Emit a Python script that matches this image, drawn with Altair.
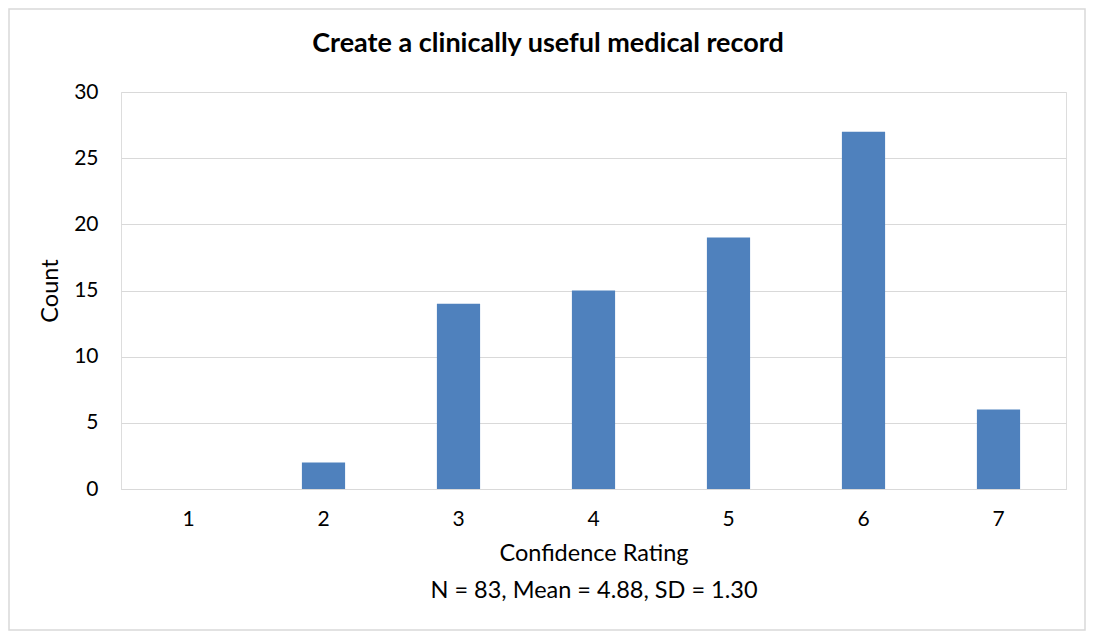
import altair as alt
import pandas as pd

ratings = ["1", "2", "3", "4", "5", "6", "7"]
counts = [0, 2, 14, 15, 19, 27, 6]
y_ticks = [0, 5, 10, 15, 20, 25, 30]

title_text = "Create a clinically useful medical record"
x_title = ["Confidence Rating", "N = 83, Mean = 4.88, SD = 1.30"]
y_title = "Count"

df = pd.DataFrame({"Rating": ratings, "Count": counts})

FONT = "Lato"
W, H = 945, 397

bars = alt.Chart(df).mark_bar(color="#4F81BD").encode(
    x=alt.X(
        "Rating:N",
        sort=ratings,
        scale=alt.Scale(paddingInner=0.68, paddingOuter=0.34),
        axis=alt.Axis(
            title=x_title,
            labelAngle=0,
            labelFont=FONT,
            labelFontSize=21,
            labelColor="#000000",
            labelPadding=19,
            ticks=False,
            domainColor="#D9D9D9",
            domainWidth=1,
            titleFont=FONT,
            titleFontSize=23.5,
            titleFontWeight="normal",
            titleColor="#000000",
            titleLineHeight=37,
            titlePadding=12,
            grid=False,
        ),
    ),
    y=alt.Y(
        "Count:Q",
        scale=alt.Scale(domain=[0, 30], nice=False),
        axis=alt.Axis(
            values=y_ticks,
            title=y_title,
            labelFont=FONT,
            labelFontSize=21,
            labelColor="#000000",
            labelPadding=23,
            ticks=False,
            domain=False,
            gridColor="#D9D9D9",
            gridWidth=1,
            titleFont=FONT,
            titleFontSize=23.5,
            titleFontWeight="normal",
            titleColor="#000000",
            titleX=-71,
            titleY=H / 2,
            titleAngle=-90,
            titleAlign="center",
            titleBaseline="middle",
        ),
    ),
)

frame_df = pd.DataFrame({"label": [title_text]})
frame = alt.Chart(frame_df).mark_rect(
    fill=None, stroke="#D9D9D9", strokeWidth=1.5
).encode(
    x=alt.value(-112),
    x2=alt.value(W + 19),
    y=alt.value(-83),
    y2=alt.value(H + 141),
)

title = alt.Chart(frame_df).mark_text(
    font=FONT,
    fontSize=27,
    fontWeight="bold",
    color="#000000",
    align="center",
    baseline="middle",
).encode(
    text="label:N",
    x=alt.value(427),
    y=alt.value(-48),
)

chart = (
    alt.layer(frame, bars, title)
    .properties(
        width=W,
        height=H,
        padding={"left": 113, "top": 84, "right": 20, "bottom": 142},
        autosize=alt.AutoSizeParams(type="none"),
    )
    .configure_view(stroke=None)
    .configure(background="white")
)

chart.save("out.html", embed_options={"renderer": "svg", "actions": False})
